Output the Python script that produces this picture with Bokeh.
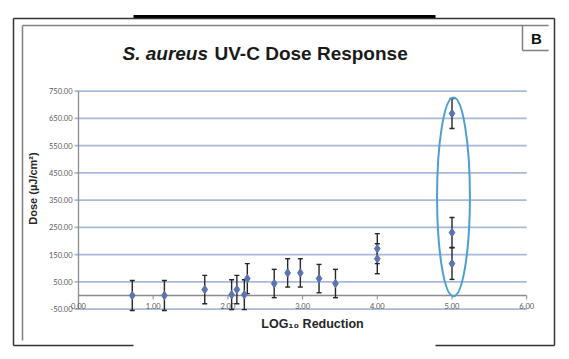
import numpy as np
from bokeh.plotting import figure
from bokeh.core.properties import value
from bokeh.embed import file_html
from bokeh.resources import INLINE

# ---- data ----
log_reduction = [0.72, 1.15, 1.69, 2.05, 2.12, 2.22, 2.26, 2.62, 2.80, 2.97, 3.22, 3.44, 4.00, 4.00, 5.00, 5.00, 5.00]
dose = [0, 0, 22, 3, 22, 3, 62, 44, 83, 83, 62, 44, 172, 135, 668, 231, 117]
dose_err = [55, 55, 52, 55, 52, 55, 55, 52, 52, 52, 52, 52, 55, 55, 55, 55, 58]
y_ticks = [-50, 50, 150, 250, 350, 450, 550, 650, 750]
y_tick_labels = ["-50.00", "50.00", "150.00", "250.00", "350.00", "450.00", "550.00", "650.00", "750.00"]
x_ticks = [0, 1, 2, 3, 4, 5, 6]
x_tick_labels = ["0.00", "1.00", "2.00", "3.00", "4.00", "5.00", "6.00"]
highlight_center = (5.02, 362)
highlight_size = (0.44, 730)

# ---- page-pixel helpers for layout (decorations only) ----
W, H = 569, 359
OX, OY = 78, 295          # page pixel of data origin
SX, SY = 74.7, 0.2725     # px per data unit


def X(px):
    return (px - OX) / SX


def Y(py):
    return (OY - py) / SY


p = figure(width=W, height=H, x_range=(X(0), X(W)), y_range=(Y(H), Y(0)),
           output_backend="svg", toolbar_location=None, title=None,
           x_axis_type=None, y_axis_type=None, min_border=0,
           min_border_left=0, min_border_right=0, min_border_top=0, min_border_bottom=0)
p.grid.visible = False
p.outline_line_color = None
p.background_fill_color = "white"
p.border_fill_color = "white"

# ---- slide decorations ----
p.segment(x0=[X(133)], y0=[Y(16)], x1=[X(435)], y1=[Y(16)], line_color="black", line_width=3)
p.segment(x0=[X(13), X(13), X(554), X(13), X(435)],
          y0=[Y(18), Y(18), Y(18), Y(345), Y(345)],
          x1=[X(554), X(13), X(554), X(133), X(554)],
          y1=[Y(18), Y(345), Y(345), Y(345), Y(345)],
          line_color="#333333", line_width=1.5)
p.segment(x0=[X(22), X(22), X(522), X(522)],
          y0=[Y(25), Y(25), Y(25), Y(50)],
          x1=[X(548), X(22), X(522), X(548)],
          y1=[Y(25), Y(340), Y(50), Y(50)],
          line_color="#808080", line_width=1.5)
p.text(x=[X(536)], y=[Y(38)], text=["B"], text_font=value("Liberation Sans"),
       text_font_size=value("15px"), text_font_style="bold", text_color="#111111",
       text_align="center", text_baseline="middle")

# ---- title ----
p.text(x=[X(122)], y=[Y(53)], text=["S. aureus"], text_font=value("Liberation Sans"),
       text_font_size=value("19px"), text_font_style="bold italic", text_color="#1a1a1a",
       text_align="left", text_baseline="middle")
p.text(x=[X(214)], y=[Y(53)], text=["UV-C Dose Response"], text_font=value("Liberation Sans"),
       text_font_size=value("19px"), text_font_style="bold", text_color="#1a1a1a",
       text_align="left", text_baseline="middle")

# ---- grid and axes ----
xmin, xmax = min(x_ticks), max(x_ticks)
p.segment(x0=[X(74)] * len(y_ticks), y0=y_ticks, x1=[xmax] * len(y_ticks), y1=y_ticks,
          line_color="#a9b9da", line_width=1.6)
p.segment(x0=[xmin], y0=[0], x1=[xmax], y1=[0], line_color="#8c8c8c", line_width=1.3)
p.segment(x0=[xmin], y0=[y_ticks[0]], x1=[xmin], y1=[y_ticks[-1]], line_color="#8c8c8c", line_width=1.3)
p.segment(x0=x_ticks, y0=[0] * len(x_ticks), x1=x_ticks, y1=[Y(OY + 4)] * len(x_ticks),
          line_color="#8c8c8c", line_width=1)

p.text(x=[X(72)] * len(y_ticks), y=y_ticks, text=y_tick_labels, text_font=value("Lato"),
       text_font_size=value("7.5px"), text_color="#595959", text_align="right", text_baseline="middle")
p.text(x=x_ticks, y=[Y(305)] * len(x_ticks), text=x_tick_labels, text_font=value("Lato"),
       text_font_size=value("7.5px"), text_color="#595959", text_align="center", text_baseline="middle")

# axis titles
p.text(x=[X(32)], y=[Y(188)], text=["Dose (µJ/cm²)"], text_font=value("Liberation Sans"),
       text_font_size=value("11px"), text_font_style="bold", text_color="#262626",
       text_align="center", text_baseline="middle", angle=np.pi / 2)
p.text(x=[X(312)], y=[Y(323)], text=["LOG₁₀ Reduction"], text_font=value("Liberation Sans"),
       text_font_size=value("12.5px"), text_font_style="bold", text_color="#262626",
       text_align="center", text_baseline="middle")

# ---- error bars ----
xs = np.array(log_reduction)
ys = np.array(dose)
es = np.array(dose_err)
cap = 2.5 / SX
p.segment(x0=xs, y0=ys - es, x1=xs, y1=ys + es, line_color="#262626", line_width=1.4)
p.segment(x0=np.r_[xs - cap, xs - cap], y0=np.r_[ys - es, ys + es],
          x1=np.r_[xs + cap, xs + cap], y1=np.r_[ys - es, ys + es],
          line_color="#262626", line_width=1.4)

# ---- points ----
p.scatter(xs, ys, marker="diamond", size=8.5, fill_color="#5b73b1", line_color="#5b73b1")

# ---- highlight ellipse ----
p.ellipse(x=[highlight_center[0]], y=[highlight_center[1]], width=[highlight_size[0]],
          height=[highlight_size[1]], fill_color=None, line_color="#4e9fd0", line_width=2)

open("out.html", "w").write(file_html(p, INLINE))
